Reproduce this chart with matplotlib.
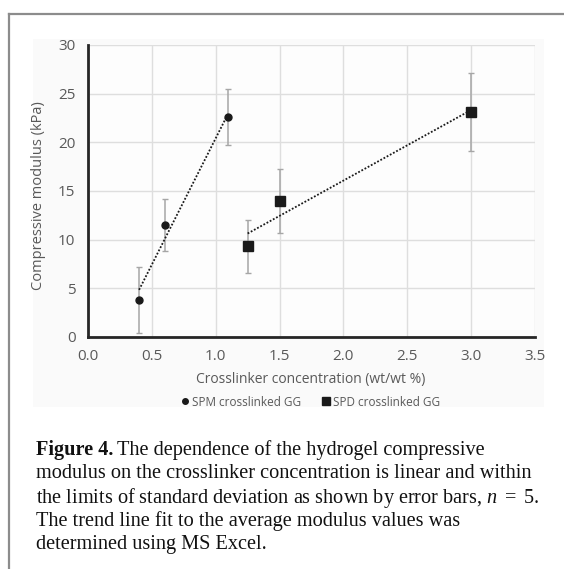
import matplotlib
matplotlib.use("Agg")
import matplotlib.pyplot as plt
import numpy as np
from matplotlib.lines import Line2D
from matplotlib.patches import Rectangle

# ---- data ----
spm_x = [0.4, 0.6, 1.1]
spm_y = [3.8, 11.5, 22.6]
spm_err = [3.4, 2.7, 2.9]
spd_x = [1.25, 1.5, 3.0]
spd_y = [9.3, 14.0, 23.1]
spd_err = [2.7, 3.3, 4.0]
x_ticks = [0.0, 0.5, 1.0, 1.5, 2.0, 2.5, 3.0, 3.5]
y_ticks = [0, 5, 10, 15, 20, 25, 30]
labels = ["SPM crosslinked GG", "SPD crosslinked GG"]

plt.rcParams['mathtext.fontset'] = 'custom'
plt.rcParams['mathtext.rm'] = 'Liberation Serif'
plt.rcParams['mathtext.it'] = 'Liberation Serif:italic'

W, H = 564, 569
fig = plt.figure(figsize=(W/100, H/100), dpi=100)

def fx(px): return px / W
def fy(py): return 1 - py / H

# chart area background
fig.add_artist(Rectangle((fx(33), fy(407)), fx(544) - fx(33), fy(39) - fy(407),
                         transform=fig.transFigure, facecolor='#fafafa', edgecolor='none', zorder=0))
# outer border (left and top visible)
fig.add_artist(Line2D([fx(9), fx(9)], [fy(14), 0], transform=fig.transFigure, color='#8c8c8c', lw=1.6))
fig.add_artist(Line2D([fx(9), 1], [fy(14), fy(14)], transform=fig.transFigure, color='#8c8c8c', lw=1.6))

ax = fig.add_axes([fx(88), fy(337), fx(535) - fx(88), fy(45) - fy(337)])
ax.set_facecolor('#fdfdfd')
ax.set_xlim(0, 3.5)
ax.set_ylim(0, 30)
ax.set_xticks(x_ticks)
ax.set_yticks(y_ticks)
ax.set_xticklabels([f"{v:.1f}" for v in x_ticks])
ax.grid(True, color='#dedede', lw=1.0, zorder=0)
ax.set_axisbelow(True)
for s in ['top', 'right']:
    ax.spines[s].set_visible(False)
for s in ['left', 'bottom']:
    ax.spines[s].set_color('#262626')
    ax.spines[s].set_linewidth(2.0)
ax.tick_params(length=0, labelsize=11, labelcolor='#595959')
ax.tick_params(axis='x', pad=9)
ax.tick_params(axis='y', pad=9)
for lab in ax.get_xticklabels() + ax.get_yticklabels():
    lab.set_family('Open Sans')

ax.errorbar(spm_x, spm_y, yerr=spm_err, fmt='none', ecolor='#a6a6a6', elinewidth=1.1, capsize=2.5, capthick=1.0, zorder=2)
ax.errorbar(spd_x, spd_y, yerr=spd_err, fmt='none', ecolor='#a6a6a6', elinewidth=1.1, capsize=2.5, capthick=1.0, zorder=2)

# linear trend lines (least squares, as in Excel)
for xs, ys in [(spm_x, spm_y), (spd_x, spd_y)]:
    p = np.polyfit(xs, ys, 1)
    xx = np.array([min(xs), max(xs)])
    ax.plot(xx, np.polyval(p, xx), color='#1a1a1a', lw=1.3, ls=(0, (1, 1)), zorder=3)

h1, = ax.plot(spm_x, spm_y, 'o', color='#1a1a1a', ms=5, ls='none', zorder=4)
h2, = ax.plot(spd_x, spd_y, 's', color='#1a1a1a', ms=6.5, ls='none', zorder=4)

fig.text(fx(311), fy(380), "Crosslinker concentration (wt/wt %)", ha='center', va='center',
         fontsize=10, color='#595959', family='Open Sans')
fig.text(fx(39), fy(196), "Compressive modulus (kPa)", ha='center', va='center', rotation=90,
         fontsize=10.5, color='#595959', family='Open Sans')

leg = fig.legend([h1, h2], labels, loc='center', bbox_to_anchor=(fx(311), fy(402)), ncol=2,
                 frameon=False, handlelength=0.5, handletextpad=0.35, columnspacing=1.8,
                 prop={'family': 'Open Sans', 'size': 8.5})
for t in leg.get_texts():
    t.set_color('#595959')
leg.legend_handles[0].set_markersize(4)
leg.legend_handles[1].set_markersize(5.5)

# caption
cap_fs = 14.6
x0 = fx(36)
y_lines = [450, 474, 497.5, 521.5, 545]
t_bold = fig.text(x0, fy(y_lines[0]), "Figure 4.", fontsize=cap_fs, fontweight='bold',
                  family='Liberation Serif', va='center', ha='left', color='#111111')
fig.canvas.draw()
bb = t_bold.get_window_extent(renderer=fig.canvas.get_renderer())
fig.text((bb.x1 + 4) / W, fy(y_lines[0]), "The dependence of the hydrogel compressive",
         fontsize=cap_fs, family='Liberation Serif', va='center', ha='left', color='#111111')
rest = ["modulus on the crosslinker concentration is linear and within",
        r"the limits of standard deviation as shown by error bars, $n\ =\ 5$.",
        "The trend line fit to the average modulus values was",
        "determined using MS Excel."]
for line, yy in zip(rest, y_lines[1:]):
    fig.text(x0, fy(yy), line, fontsize=cap_fs, family='Liberation Serif', va='center', ha='left',
             color='#111111')

fig.savefig("out.png", dpi=100)
